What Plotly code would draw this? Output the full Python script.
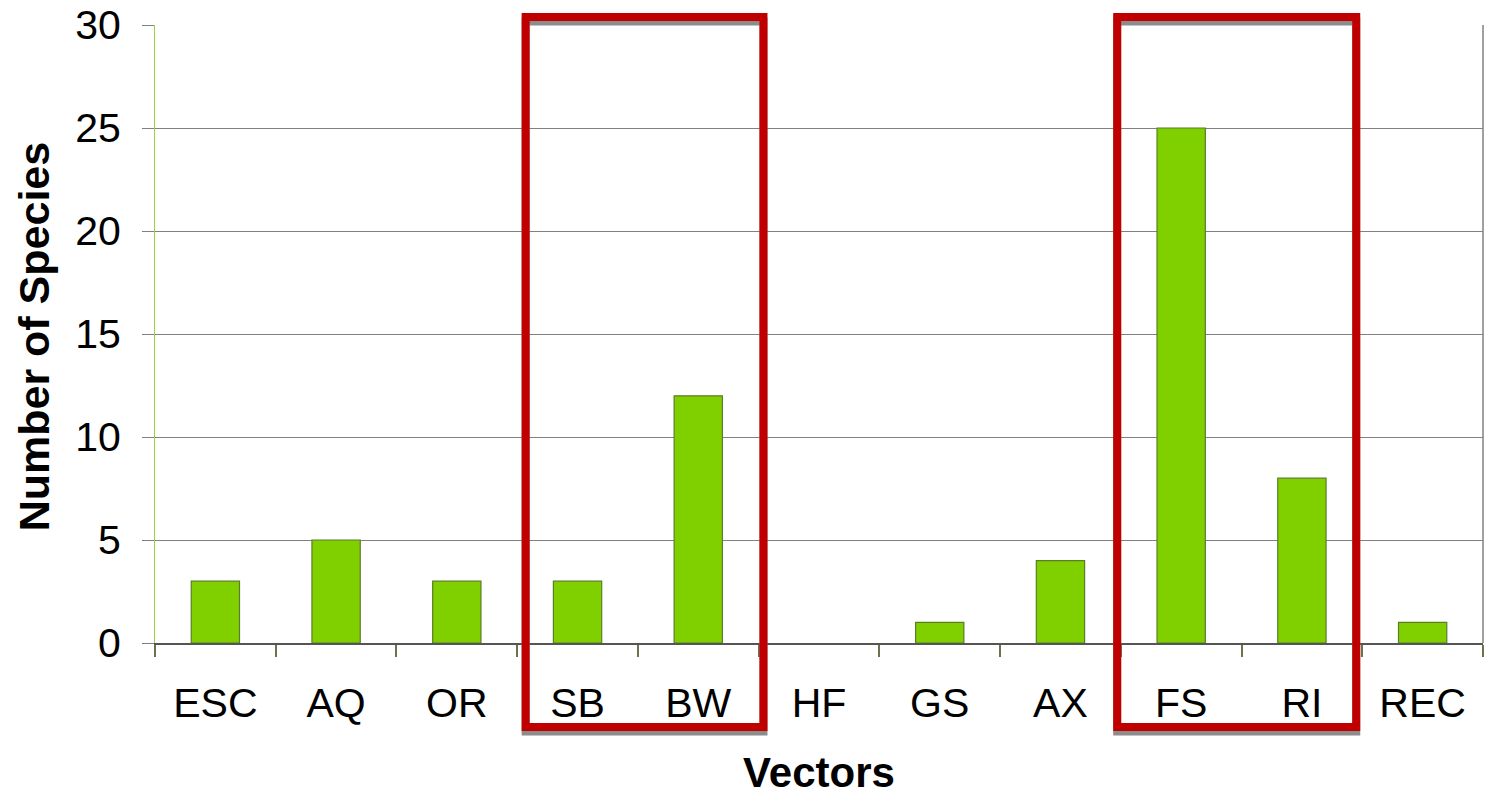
import plotly.graph_objects as go

# Number of species introduced per vector
vectors = ["ESC", "AQ", "OR", "SB", "BW", "HF", "GS", "AX", "FS", "RI", "REC"]
species = [3, 5, 3, 3, 12, 0, 1, 4, 25, 8, 1]
y_ticks = [0, 5, 10, 15, 20, 25, 30]

# Highlighted vector groups (first and last category in each group)
groups = [("SB", "BW"), ("FS", "RI")]

BAR_FILL = "#80d000"
BAR_EDGE = "#5b7d26"
GRID = "#808080"
RED = "#c00000"

fig = go.Figure(
    go.Bar(
        x=vectors,
        y=species,
        width=0.4,
        marker=dict(
            color=BAR_FILL,
            line=dict(color=BAR_EDGE, width=[1.2 if v > 0 else 0 for v in species]),
        ),
    )
)

shapes = []
# right-hand border of the plot area
shapes.append(dict(type="line", xref="paper", yref="paper", x0=1, x1=1, y0=0, y1=1,
                   line=dict(color=GRID, width=1.5)))

# hand-drawn frames: left/right padding around each group (in category units)
frame_pad = [(0.43, 0.54), (0.53, 0.45)]
px_h = 618.0
for (a, b), (pl, pr) in zip(groups, frame_pad):
    i0, i1 = vectors.index(a), vectors.index(b)
    x0, x1 = i0 - pl, i1 + pr
    y0, y1 = -0.136, 1.013
    off = 4.5 / px_h
    # soft drop shadow under the frame
    shapes.append(dict(type="rect", xref="x", yref="paper", x0=x0, x1=x1,
                       y0=y0 - off, y1=y1 - off,
                       line=dict(color="#8c8c8c", width=8), fillcolor="rgba(0,0,0,0)"))
    shapes.append(dict(type="rect", xref="x", yref="paper", x0=x0, x1=x1, y0=y0, y1=y1,
                       line=dict(color=RED, width=8), fillcolor="rgba(0,0,0,0)"))

fig.update_layout(
    width=1485,
    height=796,
    margin=dict(l=155, r=2, t=25, b=153),
    paper_bgcolor="white",
    plot_bgcolor="white",
    showlegend=False,
    font=dict(family="Arial, Liberation Sans, sans-serif", color="black"),
    shapes=shapes,
    annotations=[
        dict(text="<b>Number of Species</b>", textangle=-90, xref="paper", yref="paper",
             x=-0.0915, y=0.497, xanchor="center", yanchor="middle", showarrow=False,
             font=dict(size=43)),
    ],
)

fig.update_xaxes(
    type="category",
    categoryorder="array",
    categoryarray=vectors,
    range=[-0.5, len(vectors) - 0.5],
    tickson="boundaries",
    ticks="outside",
    ticklen=12,
    tickcolor="#6a7250",
    tickwidth=1.5,
    tickfont=dict(size=41),
    ticklabelstandoff=23,
    showgrid=False,
    showline=True,
    linecolor="#555555",
    linewidth=1.5,
    zeroline=False,
    title=dict(text="<b>Vectors</b>", font=dict(size=42), standoff=38),
)

fig.update_yaxes(
    range=[0, 30],
    tickmode="array",
    tickvals=y_ticks,
    ticks="outside",
    ticklen=12,
    tickcolor=GRID,
    tickfont=dict(size=41),
    ticklabelstandoff=13,
    showgrid=True,
    gridcolor=GRID,
    gridwidth=1,
    showline=True,
    linecolor="#9ad43a",
    linewidth=1,
    zeroline=False,
)

fig.write_html("out.html")
